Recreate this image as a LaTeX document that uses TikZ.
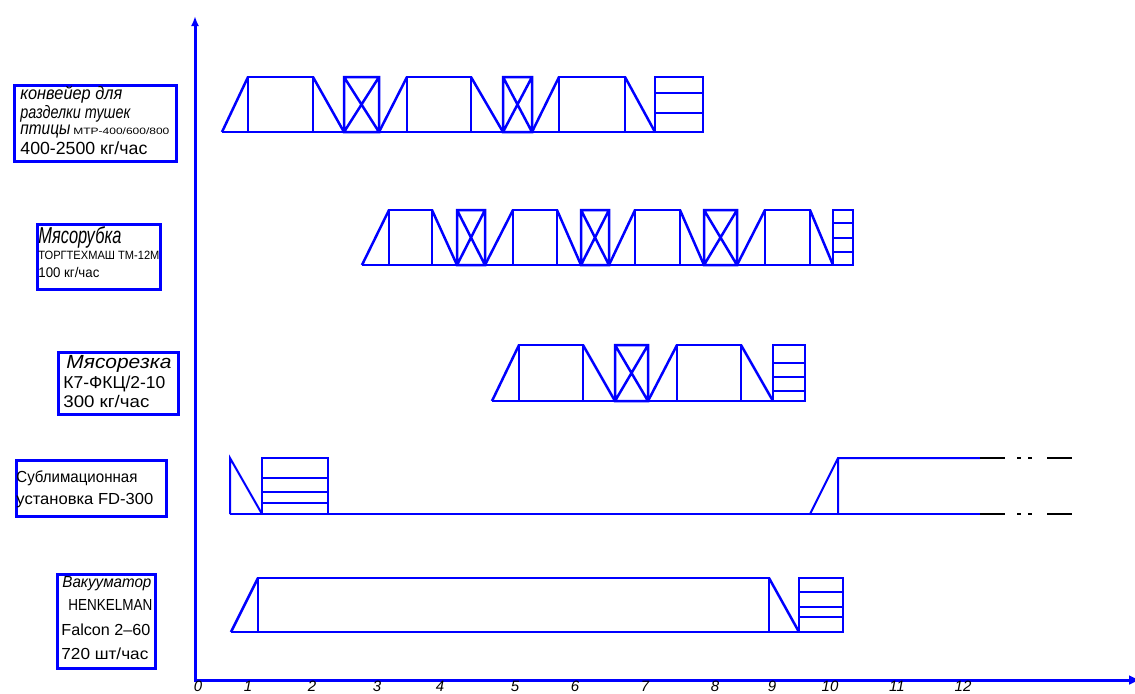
\documentclass[tikz,border=0pt]{standalone}
\usepackage{fontspec}
\setmainfont{Liberation Sans}
\usepackage{graphicx}
\usetikzlibrary{arrows.meta}

\definecolor{chartblue}{RGB}{0,0,255}
% one line of text: width, font size, text
\newcommand\gl[3]{\resizebox{#1}{\height}{\fontsize{#2}{#2}\selectfont #3}}

\tikzset{
  bar/.style={chartblue, line width=1.25pt},
  thinbar/.style={chartblue, line width=1pt},
  lblbox/.style={draw=chartblue, line width=1.5pt, anchor=north west, inner sep=0pt},
  txt/.style={anchor=base west, inner sep=0pt},
  tick/.style={anchor=north, inner sep=0pt, font=\fontsize{7.5}{7.5}\selectfont\itshape},
}

\begin{document}
\begin{tikzpicture}[x=0.5pt, y=-0.5pt]
\useasboundingbox (0,0) rectangle (1135,693);

% axes
\draw[chartblue, line width=1.5pt, {Latex[length=6pt,width=5pt]}-{Latex[length=5pt,width=4pt]}]
  (1141,680) -- (195,680) -- (195,16);
\foreach \n/\x in {0/198,1/248,2/312,3/377,4/440,5/515,6/575,7/645,8/715,9/772,10/830,11/897,12/963}
  \node[tick] (t\n) at (\x,681) {\n};

% labels
\node[lblbox, minimum width=81pt, minimum height=38pt] (conv) at (13,84) {};
\node[txt] (conv-a) at (20,99) {\gl{51pt}{9}{\itshape конвейер для}};
\node[txt] (conv-b) at (20,118) {\gl{55pt}{9}{\itshape разделки тушек}};
\node[txt] (conv-c) at (20,134) {\gl{25pt}{9}{\itshape птицы}};
\node[txt] (conv-d) at (73,134) {\gl{48pt}{4.6}{МТР-400/600/800}};
\node[txt] (conv-e) at (20,154) {\gl{63.5pt}{8.8}{400-2500 кг/час}};

\node[lblbox, minimum width=61.5pt, minimum height=32.5pt] (mincer) at (36,223) {};
\node[txt] (mincer-a) at (38,243) {\gl{41.5pt}{11.5}{\itshape Мясорубка}};
\node[txt] (mincer-b) at (38,259) {\gl{60.5pt}{6}{ТОРГТЕХМАШ ТМ-12М}};
\node[txt] (mincer-c) at (38,277) {\gl{30.5pt}{7}{100 кг/час}};

\node[lblbox, minimum width=60pt, minimum height=31pt] (slicer) at (57,351) {};
\node[txt] (slicer-a) at (66,368) {\gl{52.5pt}{9.5}{\itshape Мясорезка}};
\node[txt] (slicer-b) at (63,388) {\gl{51pt}{8.6}{К7-ФКЦ/2-10}};
\node[txt] (slicer-c) at (63,407) {\gl{43pt}{8.4}{300 кг/час}};

\node[lblbox, minimum width=75pt, minimum height=28pt] (dryer) at (15,459) {};
\node[txt] (dryer-a) at (16,482) {\gl{60.5pt}{8}{Сублимационная}};
\node[txt] (dryer-b) at (16,504) {\gl{68.5pt}{8}{установка FD-300}};

\node[lblbox, minimum width=49pt, minimum height=47pt] (vac) at (56,573) {};
\node[txt] (vac-a) at (62,587) {\gl{44.5pt}{8}{\itshape Вакууматор}};
\node[txt] (vac-b) at (68,610) {\gl{42pt}{8}{HENKELMAN}};
\node[txt] (vac-c) at (61,635) {\gl{44.5pt}{8}{Falcon 2–60}};
\node[txt] (vac-d) at (61,659) {\gl{43.5pt}{8}{720 шт/час}};

% конвейер
\draw[bar] (222,132) -- (703,132);
\draw[bar] (222,132) -- (248,77) (313,77) -- (344,132) (379,132) -- (407,77)
  (471,77) -- (503,132) (532,132) -- (559,77) (625,77) -- (655,132);
\foreach \xa/\xb in {248/313, 407/471, 559/625}
  \draw[bar] (\xa,77) rectangle (\xb,132);
\foreach \xa/\xb in {344/379, 503/532}
  \draw[bar] (\xa,77) rectangle (\xb,132) (\xa,77) -- (\xb,132) (\xa,132) -- (\xb,77);
\draw[bar] (655,77) rectangle (703,132);
\foreach \y in {93,113}
  \draw[bar] (655,\y) -- (703,\y);

% мясорубка
\draw[bar] (362,265) -- (853,265);
\draw[bar] (362,265) -- (389,210) (432,210) -- (457,265) (485,265) -- (513,210)
  (557,210) -- (581,265) (609,265) -- (635,210) (680,210) -- (704,265)
  (737,265) -- (765,210) (810,210) -- (833,265);
\foreach \xa/\xb in {389/432, 513/557, 635/680, 765/810}
  \draw[bar] (\xa,210) rectangle (\xb,265);
\foreach \xa/\xb in {457/485, 581/609, 704/737}
  \draw[bar] (\xa,210) rectangle (\xb,265) (\xa,210) -- (\xb,265) (\xa,265) -- (\xb,210);
\draw[bar] (833,210) rectangle (853,265);
\foreach \y in {223,238,252}
  \draw[bar] (833,\y) -- (853,\y);

% мясорезка
\draw[bar] (492,401) -- (805,401);
\draw[bar] (492,401) -- (519,345) (583,345) -- (615,401) (648,401) -- (677,345)
  (741,345) -- (773,401);
\foreach \xa/\xb in {519/583, 677/741}
  \draw[bar] (\xa,345) rectangle (\xb,401);
\draw[bar] (615,345) rectangle (648,401) (615,345) -- (648,401) (615,401) -- (648,345);
\draw[bar] (773,345) rectangle (805,401);
\foreach \y in {363,377,391}
  \draw[bar] (773,\y) -- (805,\y);

% сублимация
\draw[thinbar] (230,514) -- (980,514);
\draw[thinbar] (230,514) -- (230,458) -- (262,514);
\draw[thinbar] (262,458) rectangle (328,514);
\foreach \y in {478,492,503}
  \draw[thinbar] (262,\y) -- (328,\y);
\draw[thinbar] (810,514) -- (838,458) -- (980,458) (838,458) -- (838,514);
\foreach \y in {458,514}
  \draw[black, line width=1pt, dash pattern=on 12.5pt off 6pt on 2pt off 3.5pt on 2pt off 7.5pt on 12.5pt off 20pt]
    (980,\y) -- (1072,\y);

% вакууматор
\draw[bar] (231,632) -- (843,632);
\draw[bar] (231,632) -- (258,578) (769,578) -- (799,632);
\draw[bar] (258,578) rectangle (769,632);
\draw[bar] (799,578) rectangle (843,632);
\foreach \y in {592,607,617}
  \draw[bar] (799,\y) -- (843,\y);
\end{tikzpicture}
\end{document}
